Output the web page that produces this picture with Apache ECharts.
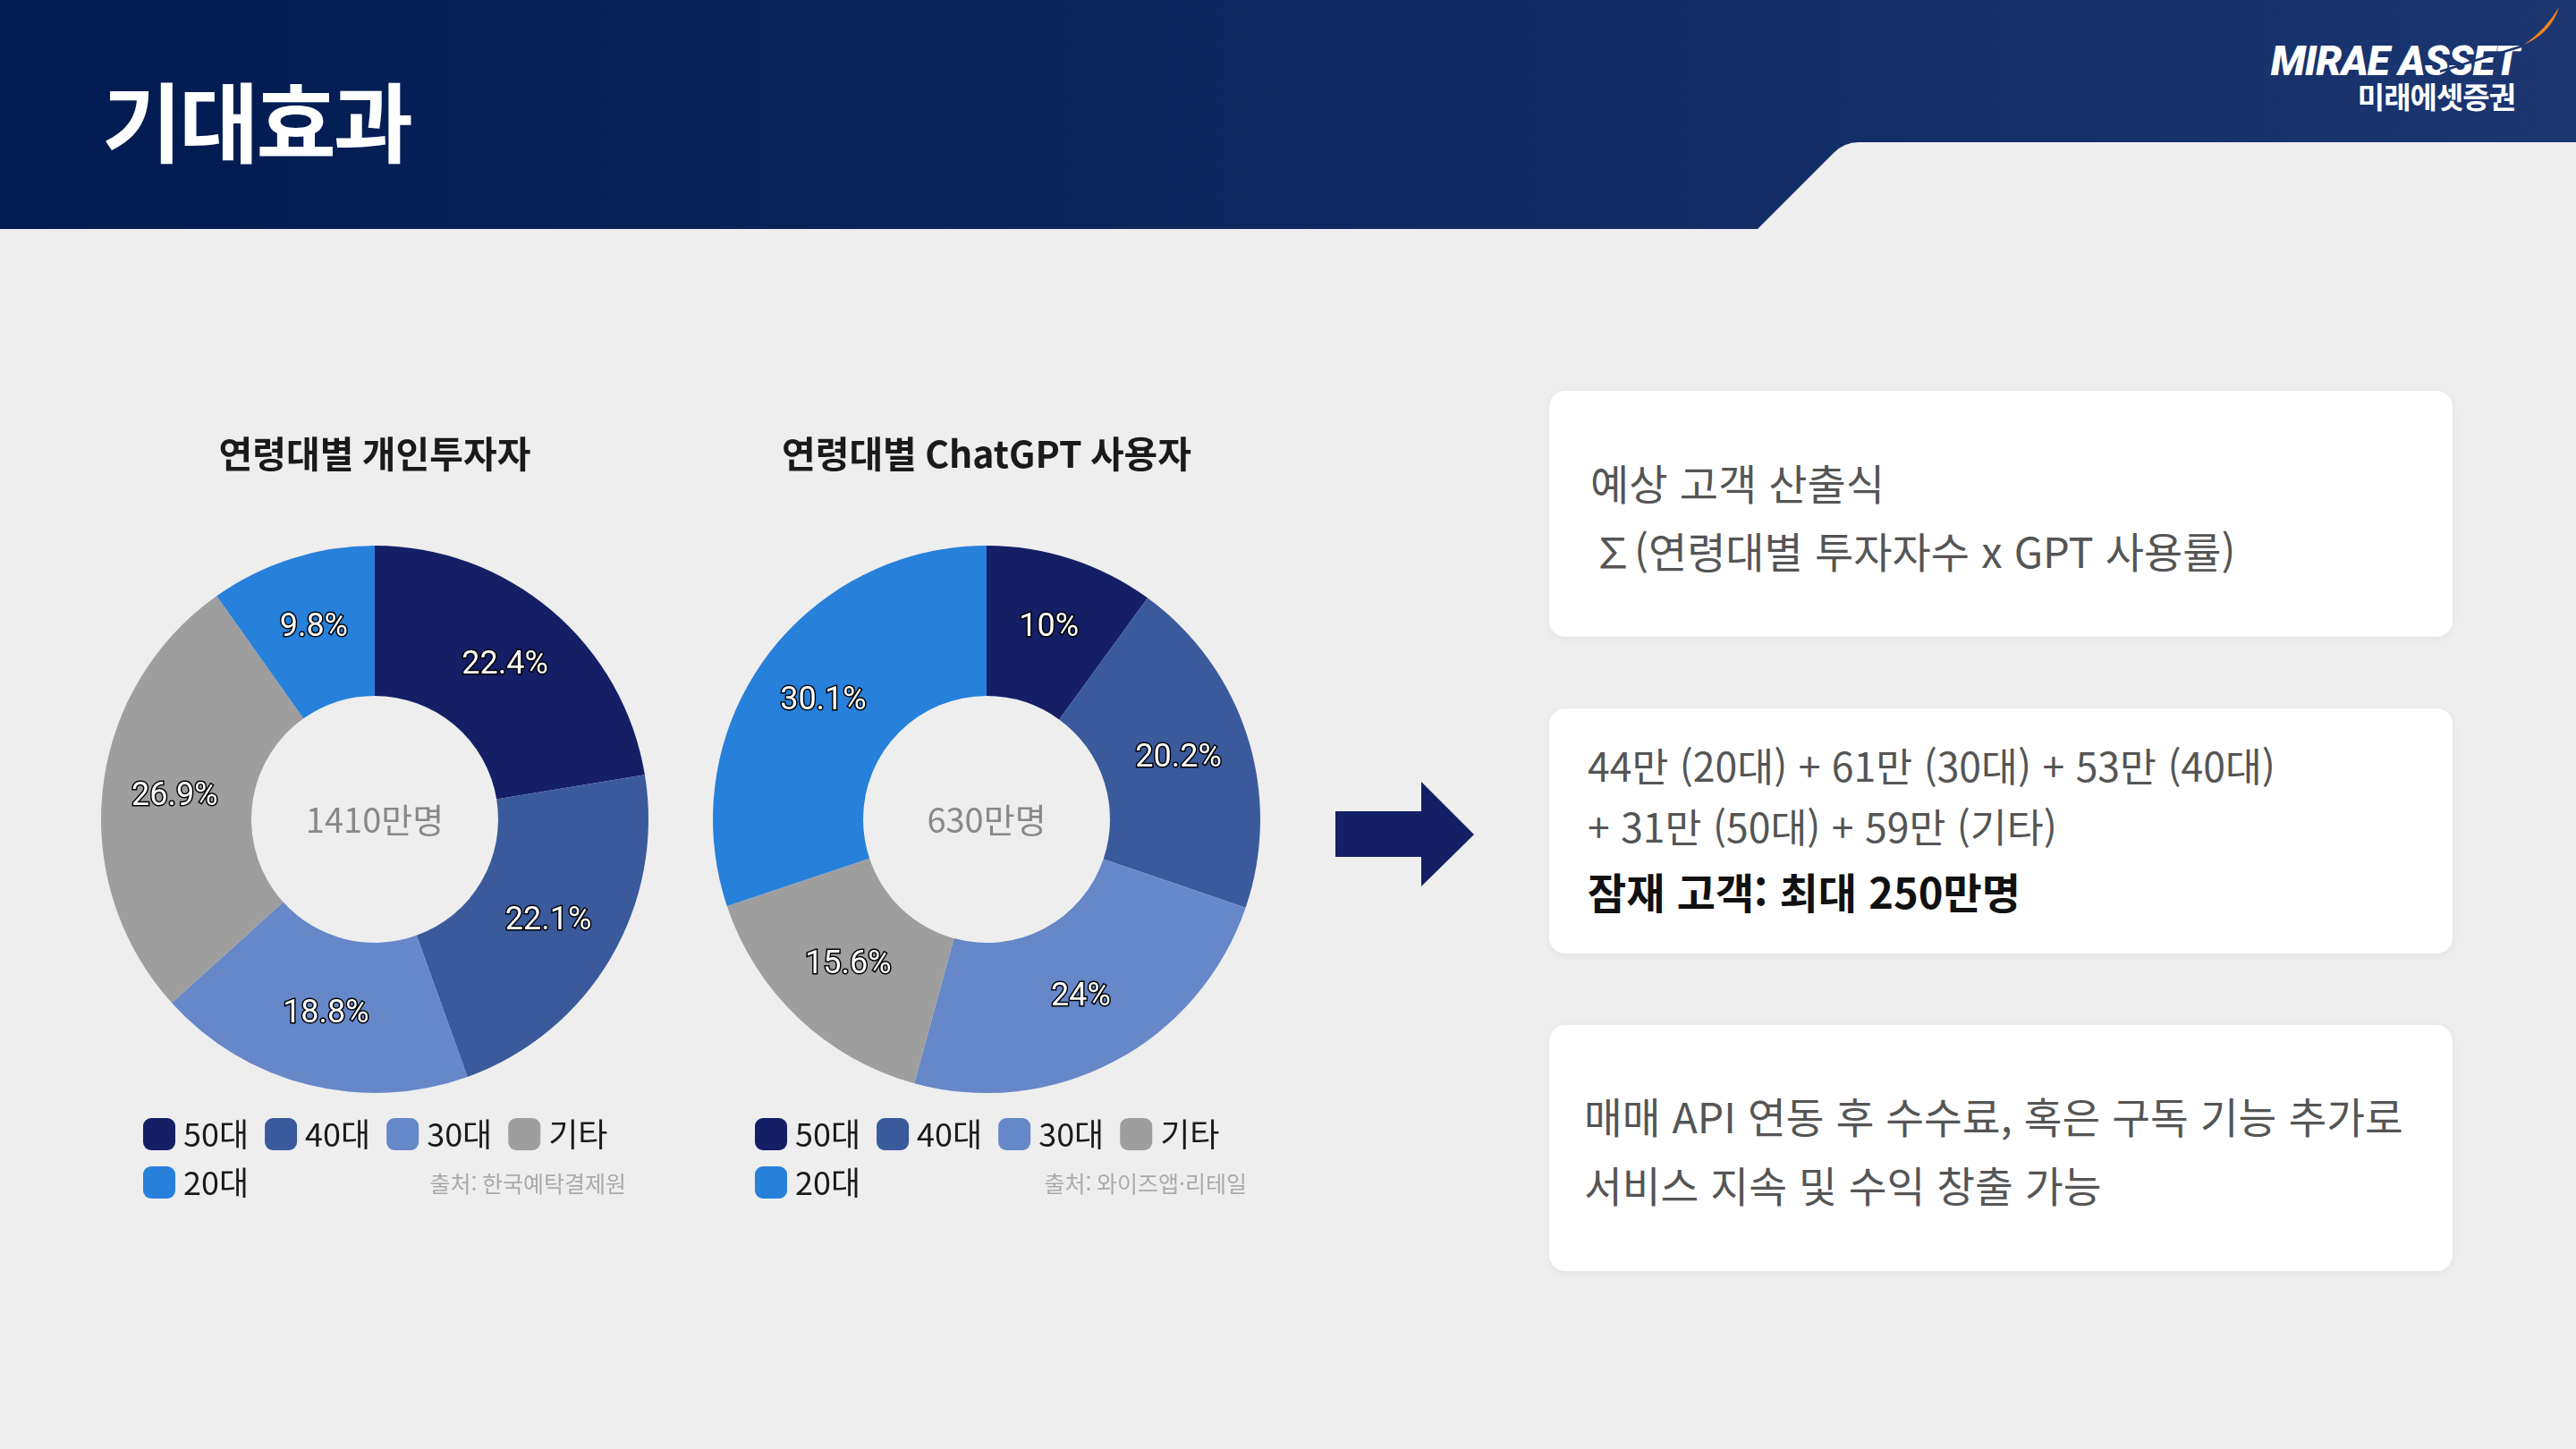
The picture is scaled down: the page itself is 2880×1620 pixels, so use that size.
<!DOCTYPE html>
<html lang="ko">
<head>
<meta charset="utf-8">
<title>기대효과</title>
<script src="https://cdn.jsdelivr.net/npm/echarts@6/dist/echarts.min.js"></script>
<style>
  html, body { margin:0; padding:0; }
  body { width:2880px; height:1620px; overflow:hidden; position:relative; background:#eeeeee;
         font-family:'Noto Sans CJK KR','Noto Sans',sans-serif; }
  .abs { position:absolute; white-space:nowrap; line-height:1; }
  .card { position:absolute; left:1732px; width:1010px; background:#ffffff; border-radius:18px;
          box-shadow:0 2px 10px rgba(0,0,0,0.05); }
  .ln { position:absolute; white-space:nowrap; line-height:1; color:#555555; }
</style>
</head>
<body>
<svg width="2880" height="1620" style="position:absolute;left:0;top:0">
  <defs>
    <linearGradient id="hg" x1="0" y1="0" x2="1" y2="0">
      <stop offset="0" stop-color="#001b50"/>
      <stop offset="1" stop-color="#1b3670"/>
    </linearGradient>
  </defs>
  <path d="M0,0 H2880 V159 H2078 Q2062,159 2050,171 L1965,256 H0 Z" fill="url(#hg)"/>
  <path d="M1493,907 H1589 V874 L1648,933 L1589,991 V958 H1493 Z" fill="#141f66"/>
  <path d="M2861,8 Q2853,36 2822,50 Q2846,33 2861,8 Z" fill="#f0821e"/>
</svg>
<div class="abs" style="left:114px;top:83px;font-size:97px;font-weight:700;color:#ffffff;letter-spacing:-3px;">기대효과</div>
<div class="abs" style="right:64px;top:45px;font-family:Roboto,'Liberation Sans',sans-serif;font-size:46px;font-weight:900;font-style:italic;color:#ffffff;letter-spacing:-1px;">MIRAE ASSET</div>
<svg width="2880" height="200" style="position:absolute;left:0;top:0;pointer-events:none">
  <path d="M2822,51 Q2785,62 2728,80" stroke="#1a3570" stroke-width="2.5" fill="none"/>
</svg>
<div class="abs" style="right:68px;top:91px;font-size:33px;font-weight:700;color:#ffffff;letter-spacing:-1px;">미래에셋증권</div>

<div id="chart" style="position:absolute;left:0;top:0;width:1700px;height:1620px;"></div>

<div class="card" style="top:437px;height:275px;"></div>
<div class="ln" style="left:1778px;top:515px;font-size:47px;">예상 고객 산출식</div>
<div class="ln" style="left:1780px;top:591px;font-size:47px;">∑(연령대별 투자자수 x GPT 사용률)</div>

<div class="card" style="top:792px;height:274px;"></div>
<div class="ln" style="left:1775px;top:833px;font-size:44.5px;">44만 (20대) + 61만 (30대) + 53만 (40대)</div>
<div class="ln" style="left:1775px;top:901px;font-size:44.5px;">+ 31만 (50대) + 59만 (기타)</div>
<div class="ln" style="left:1775px;top:972px;font-size:47px;font-weight:700;color:#111111;">잠재 고객: 최대 250만명</div>

<div class="card" style="top:1146px;height:275px;"></div>
<div class="ln" style="left:1771px;top:1224px;font-size:46.5px;">매매 API 연동 후 수수료, 혹은 구독 기능 추가로</div>
<div class="ln" style="left:1771px;top:1301px;font-size:46.5px;">서비스 지속 및 수익 창출 가능</div>

<script>
// ---- data ----
const categories = ['50대', '40대', '30대', '기타', '20대'];
const investorShare = [22.4, 22.1, 18.8, 26.9, 9.8];     // 연령대별 개인투자자 (%)
const chatgptShare = [10, 20.2, 24, 15.6, 30.1];         // 연령대별 ChatGPT 사용자 (%)
const chartTitles = ['연령대별 개인투자자', '연령대별 ChatGPT 사용자'];
const centerTotals = ['1410만명', '630만명'];
const sourceNotes = ['출처: 한국예탁결제원', '출처: 와이즈앱·리테일'];

const FONT = "'Noto Sans CJK KR','Noto Sans',sans-serif";
const chart = echarts.init(document.getElementById('chart'), null, { renderer: 'canvas' });

const pies = [
  { values: investorShare, cx: 419, legendLeft: 155, sourceRight: 700 },
  { values: chatgptShare, cx: 1103, legendLeft: 839, sourceRight: 1394 }
];
const CY = 916;

function pieSeries(p, idx) {
  return {
    type: 'pie',
    name: chartTitles[idx],
    center: [p.cx, CY],
    radius: [138, 306],
    startAngle: 90,
    clockwise: true,
    avoidLabelOverlap: false,
    silent: true,
    emphasis: { disabled: true },
    itemStyle: { borderWidth: 0 },
    label: {
      show: true,
      position: 'inside',
      formatter: (d) => d.value + '%',
      color: '#ffffff',
      fontFamily: 'Roboto',
      fontSize: 36,
      textBorderColor: '#000000',
      textBorderWidth: 3
    },
    labelLine: { show: false },
    data: categories.map((n, i) => ({ name: n, value: p.values[i] }))
  };
}

function legendFor(p) {
  return {
    data: categories,
    left: p.legendLeft,
    top: 1245,
    width: 580,
    orient: 'horizontal',
    icon: 'roundRect',
    itemWidth: 36,
    itemHeight: 36,
    itemGap: 18,
    selectedMode: false,
    textStyle: { fontSize: 36, color: '#1a1a1a', fontFamily: FONT, padding: [0, 0, 0, 4] }
  };
}

const graphics = [];
pies.forEach((p, i) => {
  graphics.push({
    type: 'text', x: p.cx, y: 507, silent: true,
    style: { text: chartTitles[i], fill: '#1a1a1a', fontSize: 41, fontWeight: 'bold', fontFamily: FONT,
             align: 'center', verticalAlign: 'middle', textAlign: 'center', textVerticalAlign: 'middle' }
  });
  graphics.push({
    type: 'text', x: p.cx, y: 917, silent: true,
    style: { text: centerTotals[i], fill: '#888888', fontSize: 38, fontFamily: FONT,
             align: 'center', verticalAlign: 'middle', textAlign: 'center', textVerticalAlign: 'middle' }
  });
  graphics.push({
    type: 'text', x: p.sourceRight, y: 1323, silent: true,
    style: { text: sourceNotes[i], fill: '#aaaaaa', fontSize: 25, fontFamily: FONT,
             align: 'right', verticalAlign: 'middle', textAlign: 'right', textVerticalAlign: 'middle' }
  });
});

chart.setOption({
  animation: false,
  backgroundColor: 'transparent',
  color: ['#141f66', '#3a5a9c', '#6687c8', '#9e9e9e', '#2780da'],
  textStyle: { fontFamily: FONT },
  legend: pies.map(legendFor),
  series: pies.map(pieSeries),
  graphic: { elements: graphics }
});
</script>
</body>
</html>
